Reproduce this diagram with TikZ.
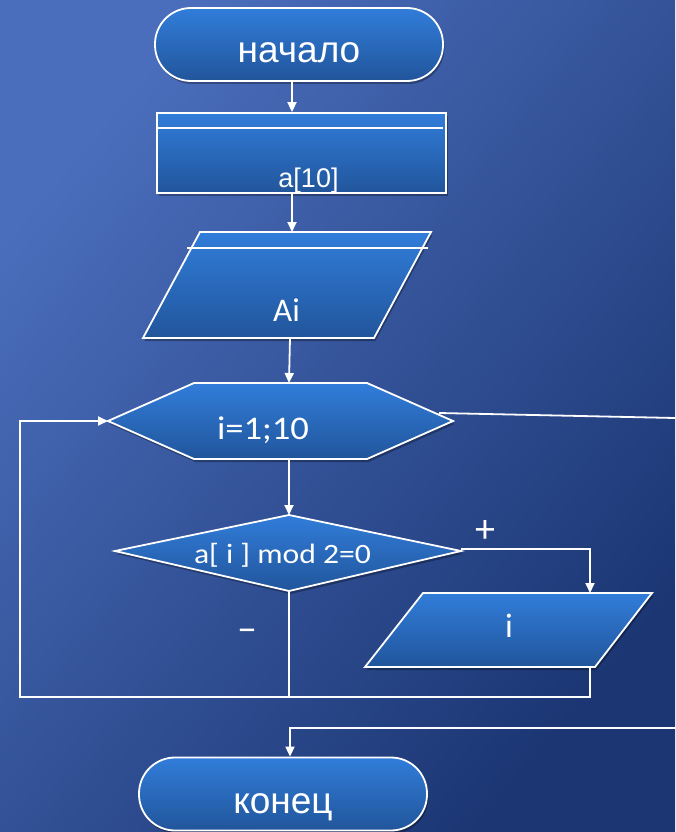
\documentclass[tikz,border=0pt]{standalone}
\usepackage{fontspec}
\setmainfont{Liberation Sans}
\newfontfamily\calib{Carlito}
\usetikzlibrary{arrows.meta,shadows}
\definecolor{bgLight}{HTML}{4B6EBC}
\definecolor{bgDark}{HTML}{1B3673}
\definecolor{shTop}{HTML}{317DDA}
\definecolor{shBot}{HTML}{21559B}
\begin{document}
\begin{tikzpicture}[x=1pt,y=-1pt,
  shapebox/.style={draw=white, line width=1.8pt, top color=shTop, bottom color=shBot,
    drop shadow={shadow xshift=1.5pt, shadow yshift=-3pt, opacity=0.3, fill=black}},
  term/.style={shapebox, rectangle, rounded corners=36pt, minimum width=288pt, minimum height=73pt, inner sep=0pt},
  procbox/.style={shapebox, rectangle, minimum width=289pt, minimum height=80pt, inner sep=0pt},
  conn/.style={draw=white, line width=1.8pt},
  arr/.style={conn, -{Triangle[width=9pt,length=10pt]}},
  txt/.style={text=white, inner sep=0pt, anchor=base},
  arialbig/.style={txt, font=\fontsize{37}{40}\selectfont},
  arialmid/.style={txt, font=\fontsize{27}{30}\selectfont},
  calbox/.style={txt, font=\calib\fontsize{33}{36}\selectfont},
  sign/.style={text=white, inner sep=0pt, font=\calib\fontsize{40}{44}\selectfont},
]
\useasboundingbox (0,0) rectangle (675,832);
\shade[top color=bgLight, bottom color=bgDark, shading angle=50] (0,0) rectangle (675,832);

% named coordinates
\coordinate (c1) at (292,0);
\coordinate (aiN) at (292,232);
\coordinate (aiS) at (290,338);
\coordinate (hexN) at (289,383);
\coordinate (hexS) at (289,459);
\coordinate (hexW) at (108,421);
\coordinate (hexX) at (439,413);
\coordinate (diaN) at (289,515);
\coordinate (diaS) at (289,591);
\coordinate (diaE) at (461,549);
\coordinate (ioN) at (590,593);
\coordinate (ioS) at (590,667);
\coordinate (loopBR) at (590,697);
\coordinate (loopBL) at (20,697);
\coordinate (loopTL) at (20,421);
\coordinate (exitR) at (675,418);
\coordinate (backR) at (675,728);
\coordinate (backL) at (290,728);

% shapes
\node[term] (start) at (299,44.5) {};
\node[arialbig] (tStart) at (299,63) {начало};

\node[procbox] (proc) at (301.5,153) {};
\draw[conn, line width=1.5pt] (157,128) -- (443,128);
\node[arialmid] (tProc) at (308.5,187) {a[10]};

\path[shapebox] (200,232) -- (431,232) -- (374,338) -- (143,338) -- cycle;
\draw[conn, line width=1.5pt] (187,248) -- (428,248);
\node[calbox] (tAi) at (286.5,321.5) {Ai};

\path[shapebox] (194,383) -- (367,383) -- (453,421) -- (367,459) -- (194,459) -- (108,421) -- cycle;
\node[calbox] (tHex) at (263,439) {\resizebox{92pt}{\height}{i=1;10}};

\path[shapebox] (289,515) -- (461,551) -- (289,591) -- (115,551) -- cycle;
\node[txt, font=\calib\fontsize{28}{31}\selectfont] (tDia) at (282.5,563.5) {\resizebox{177pt}{\height}{a[ i ] mod 2=0}};

\path[shapebox] (423,593) -- (652,593) -- (595,667) -- (365,667) -- cycle;
\node[txt, font=\calib\fontsize{34}{37}\selectfont] (tOut) at (509,637) {i};

\node[term] (end) at (283,794) {};
\node[arialbig] (tEnd) at (283,813) {конец};

% labels
\node[sign] (lPlus) at (485,531) {+};
\node[sign] (lMinus) at (247,635) {–};

% connectors
\draw[arr] (start.south -| c1) -- (proc.north -| c1);
\draw[arr] (proc.south -| c1) -- (aiN);
\draw[arr] (aiS) -- (hexN);
\draw[arr] (hexS) -- (diaN);
\draw[arr] (diaE) -- (diaE -| ioN) -- (ioN);
\draw[conn] (diaS) -- (diaS |- loopBR);
\draw[arr] (ioS) -- (loopBR) -- (loopBL) -- (loopTL) -- (hexW);
\draw[conn] (hexX) -- (exitR);
\draw[arr] (backR) -- (backL) -- (backL |- end.north);
\end{tikzpicture}
\end{document}
